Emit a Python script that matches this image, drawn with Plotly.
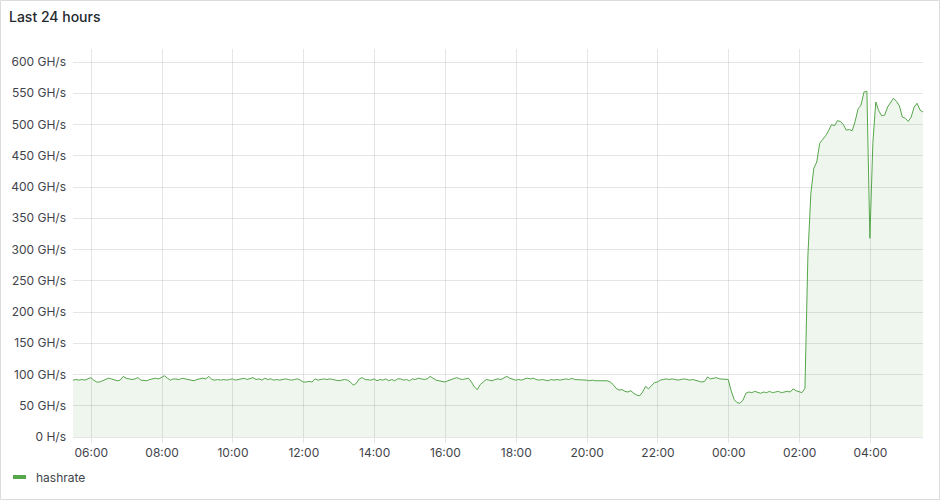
import pandas as pd
import plotly.graph_objects as go

# ---- data (GH/s, one sample every 5 minutes) ----
start_time = "2024-01-01 05:29"
step_minutes = 5

hashrate_ghs = [
    # 05:30 - 06:25
    91, 92, 91, 92, 91, 93, 95, 91, 88, 88, 90, 93,
    # 06:30 - 07:25
    94, 93, 91, 90, 91, 97, 94, 93, 92, 93, 95, 91,
    # 07:30 - 08:25
    91, 90, 92, 93, 94, 93, 95, 98, 94, 91, 93, 93,
    # 08:30 - 09:25
    92, 94, 93, 93, 91, 90, 92, 93, 94, 93, 97, 92,
    # 09:30 - 10:25
    91, 92, 91, 92, 91, 92, 93, 91, 92, 92, 94, 92,
    # 10:30 - 11:25
    93, 95, 92, 93, 91, 94, 92, 93, 91, 92, 91, 92,
    # 11:30 - 12:25
    93, 92, 91, 92, 93, 91, 88, 88, 89, 88, 93, 91,
    # 12:30 - 13:25
    92, 93, 92, 93, 92, 91, 90, 91, 92, 91, 88, 83,
    # 13:30 - 14:25
    86, 93, 95, 92, 92, 91, 93, 90, 92, 91, 93, 90,
    # 14:30 - 15:25
    92, 90, 93, 93, 91, 92, 90, 93, 92, 94, 93, 92,
    # 15:30 - 16:25
    93, 97, 94, 91, 90, 89, 88, 90, 92, 93, 95, 93,
    # 16:30 - 17:25
    92, 93, 94, 88, 80, 76, 84, 88, 92, 91, 90, 92,
    # 17:30 - 18:25
    93, 92, 95, 97, 94, 92, 91, 92, 91, 93, 94, 93,
    # 18:30 - 19:25
    94, 92, 91, 92, 91, 90, 92, 91, 92, 91, 92, 93,
    # 19:30 - 20:25
    92, 94, 92, 92, 91, 92, 91, 90, 91, 90, 90, 91,
    # 20:30 - 21:25
    90, 90, 88, 84, 78, 75, 76, 73, 72, 74, 70, 67,
    # 21:30 - 22:25
    66, 72, 81, 77, 82, 87, 88, 91, 92, 93, 92, 93,
    # 22:30 - 23:25
    92, 91, 92, 93, 92, 91, 92, 91, 90, 88, 89, 96,
    # 23:30 - 00:25
    93, 94, 95, 93, 93, 93, 92, 74, 60, 55, 54, 59,
    # 00:30 - 01:25
    70, 72, 71, 73, 72, 70, 72, 71, 73, 71, 72, 73,
    # 01:30 - 02:25
    71, 72, 73, 72, 77, 74, 72, 71, 78, 290, 390, 430,
    # 02:30 - 03:25
    440, 470, 476, 482, 490, 500, 498, 506, 505, 500, 491, 492,
    # 03:30 - 04:25
    490, 505, 525, 531, 552, 553, 318, 470, 536, 522, 514, 515,
    # 04:30 - 05:25
    528, 536, 542, 537, 530, 512, 510, 505, 512, 528, 534, 523,
    # 05:30
    520,
]

y_tick_values = [0, 50, 100, 150, 200, 250, 300, 350, 400, 450, 500, 550, 600]
y_tick_labels = ["0 H/s", "50 GH/s", "100 GH/s", "150 GH/s", "200 GH/s", "250 GH/s",
                 "300 GH/s", "350 GH/s", "400 GH/s", "450 GH/s", "500 GH/s",
                 "550 GH/s", "600 GH/s"]
series_name = "hashrate"
panel_title = "Last 24 hours"

times = pd.date_range(start=start_time, periods=len(hashrate_ghs),
                      freq=f"{step_minutes}min")

# ---- styling ----
GREEN = "#56A64B"
GRID = "rgba(36,41,46,0.12)"
TEXT = "#3f444b"
FONT = "Inter"
W, H = 940, 500
ML, MR, MT, MB = 73, 17, 49, 63
PW, PH = W - ML - MR, H - MT - MB


def px_x(p):
    return (p - ML) / PW


def px_y(p):
    return (H - MB - p) / PH


fig = go.Figure()
fig.add_trace(go.Scatter(
    x=times, y=hashrate_ghs, mode="lines", name=series_name,
    line=dict(color=GREEN, width=1),
    fill="tozeroy", fillcolor="rgba(86,166,75,0.1)",
    showlegend=False,
))

fig.update_layout(
    width=W, height=H,
    margin=dict(l=ML, r=MR, t=MT, b=MB),
    paper_bgcolor="white", plot_bgcolor="white",
    font=dict(family=FONT, size=12, color=TEXT),
    title=dict(text=panel_title, x=9 / W, xanchor="left", xref="container",
               y=1 - 17 / H, yanchor="middle", yref="container",
               font=dict(family=FONT, size=14, color="#24292e", weight=500)),
    xaxis=dict(
        type="date",
        range=[times[0], times[-1]],
        tick0="2024-01-01 06:00", dtick=2 * 3600 * 1000,
        tickformat="%H:%M",
        showgrid=True, gridcolor=GRID, gridwidth=1,
        ticks="outside", ticklen=5, tickcolor=GRID,
        showline=True, linecolor=GRID,
        zeroline=False, ticklabelstandoff=0,
        tickfont=dict(family=FONT, size=12, color=TEXT),
    ),
    yaxis=dict(
        range=[0, 620.8],
        tickvals=y_tick_values, ticktext=y_tick_labels,
        showgrid=True, gridcolor=GRID, gridwidth=1,
        zeroline=False, ticks="", ticklabelstandoff=6,
        tickfont=dict(family=FONT, size=12, color=TEXT),
    ),
    showlegend=False,
)

# panel border
fig.add_shape(type="rect", xref="paper", yref="paper",
              x0=px_x(0.5), x1=px_x(939.5), y0=px_y(499.5), y1=px_y(0.5),
              line=dict(color="#dcdcdc", width=1), layer="below")

# legend entry (Grafana style)
fig.add_shape(type="line", xref="paper", yref="paper",
              x0=px_x(13), x1=px_x(26), y0=px_y(477), y1=px_y(477),
              line=dict(color=GREEN, width=4))
fig.add_annotation(text=series_name, xref="paper", yref="paper",
                   x=px_x(34), y=px_y(477), xanchor="left", yanchor="middle",
                   showarrow=False, font=dict(family=FONT, size=12, color=TEXT))

fig.write_html("out.html", config={"displayModeBar": False},
               post_script="document.body.style.margin='0';")
